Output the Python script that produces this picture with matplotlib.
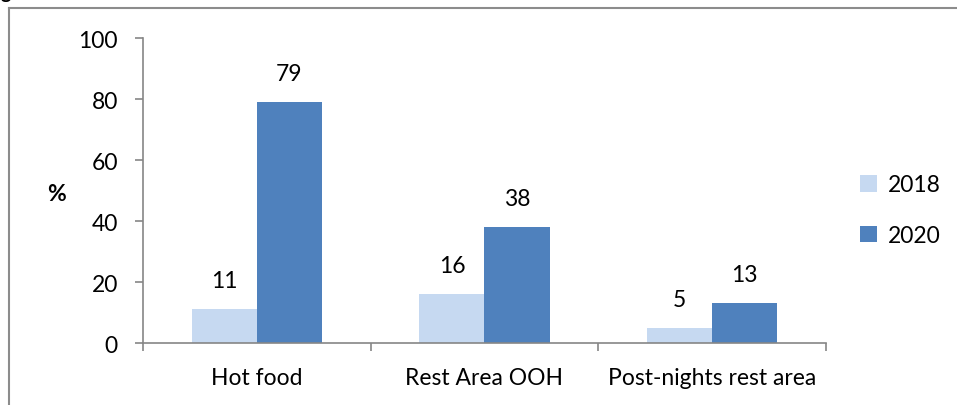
import matplotlib
matplotlib.use('Agg')
import matplotlib.pyplot as plt
import numpy as np
from matplotlib.lines import Line2D

plt.rcParams['font.family'] = ['Lato', 'DejaVu Sans']

categories = ['Hot food', 'Rest Area OOH', 'Post-nights rest area']
years = ['2018', '2020']
vals_2018 = [11, 16, 5]
vals_2020 = [79, 38, 13]
colors = ['#C6D9F1', '#4F81BD']
axis_grey = '#868686'
fs = 16.5

fig = plt.figure(figsize=(9.57, 4.06), dpi=100)
ax = fig.add_axes([0.1494, 0.1527, 0.8631 - 0.1494, 0.9039 - 0.1527])

x = np.arange(len(categories))
w = 0.286
bars1 = ax.bar(x - w / 2, vals_2018, w, color=colors[0], label=years[0])
bars2 = ax.bar(x + w / 2, vals_2020, w, color=colors[1], label=years[1])

for bars, vals in ((bars1, vals_2018), (bars2, vals_2020)):
    for b, v in zip(bars, vals):
        ax.annotate(str(v), (b.get_x() + b.get_width() / 2, v),
                    xytext=(0, 13), textcoords='offset points',
                    ha='center', va='bottom', fontsize=fs)

ax.set_xlim(-0.5, len(categories) - 0.5)
ax.set_ylim(0, 100)
ax.set_yticks(range(0, 101, 20))
ax.tick_params(axis='y', labelsize=fs, length=6, width=1.2, color=axis_grey, pad=12)

# category labels centred, tick marks on the category boundaries
ax.set_xticks(x)
ax.set_xticklabels(categories, fontsize=fs)
ax.tick_params(axis='x', length=0, pad=17)
ax.set_xticks(np.arange(-0.5, len(categories)), minor=True)
ax.tick_params(axis='x', which='minor', length=6, width=1.2, color=axis_grey)

for s in ['top', 'right']:
    ax.spines[s].set_visible(False)
for s in ['left', 'bottom']:
    ax.spines[s].set_color(axis_grey)
    ax.spines[s].set_linewidth(1.2)

ax.set_ylabel('%', rotation=0, fontsize=fs, fontweight='bold', va='center', ha='center')
ax.yaxis.set_label_coords(-0.126, 0.49)

fig.legend(handles=[bars1, bars2], labels=years, loc='center left',
           bbox_to_anchor=(0.877, 0.48), frameon=False, fontsize=fs,
           handlelength=0.75, handleheight=0.75, labelspacing=1.3, handletextpad=0.45)

# outer frame of the chart area
fig.add_artist(Line2D([9 / 957, 9 / 957], [0, 1 - 9 / 406], color='#8c8c8c', lw=1.5))
fig.add_artist(Line2D([9 / 957, 1], [1 - 9 / 406, 1 - 9 / 406], color='#8c8c8c', lw=1.5))
fig.text(0.001, 1 + 1 / 406, 'g', fontsize=14, fontweight='bold', va='baseline', ha='left')

fig.savefig('out.png', dpi=100)
